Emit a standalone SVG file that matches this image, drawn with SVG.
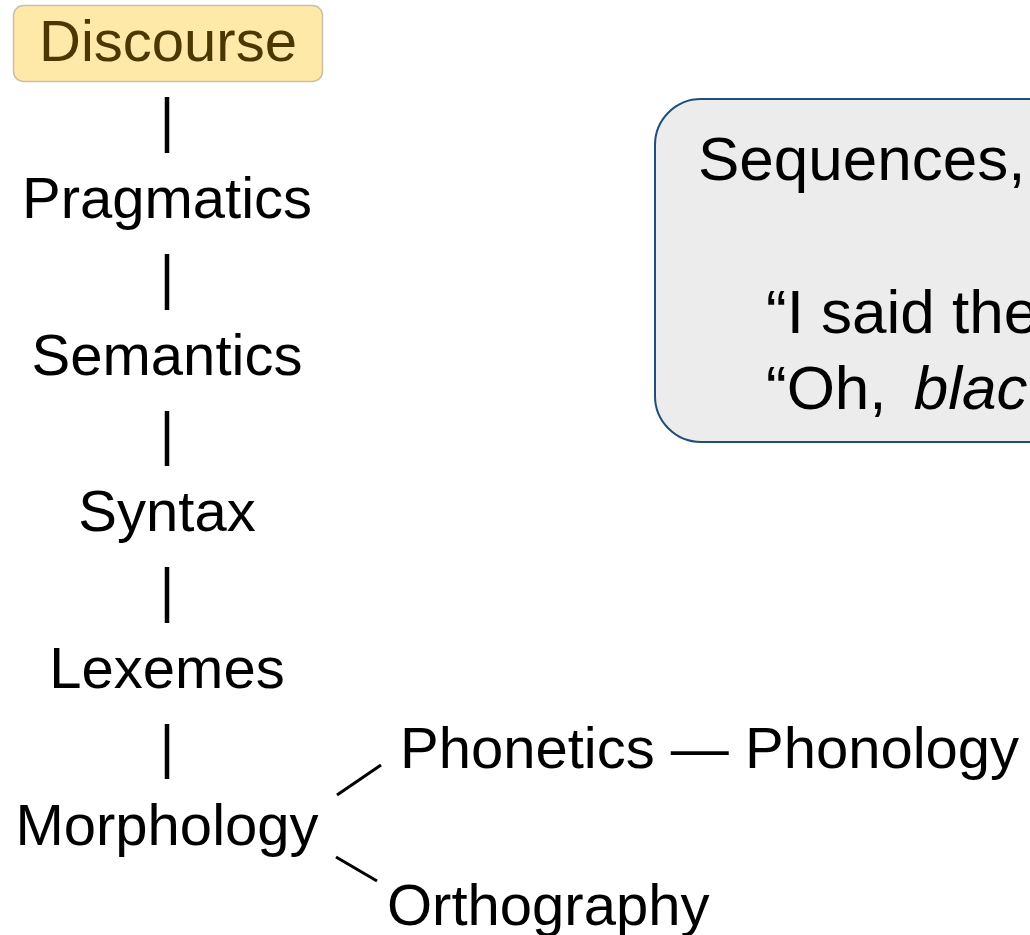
<svg xmlns="http://www.w3.org/2000/svg" width="1030" height="935" viewBox="0 0 1030 935">
  <style>
    .lbl { font-family: "Liberation Sans", Arial, sans-serif; font-size: 58px; fill: #000; }
    .big { font-size: 62px; }
    .mid { text-anchor: middle; }
    .bar { stroke: #000; stroke-width: 4.5; fill: none; }
    .diag { stroke: #000; stroke-width: 3; fill: none; }
  </style>
  <rect width="1030" height="935" fill="#fff"/>

  <!-- connectors between levels -->
  <g id="connectors">
    <line class="bar" x1="167" y1="97" x2="167" y2="153"/>
    <line class="bar" x1="167" y1="254" x2="167" y2="310"/>
    <line class="bar" x1="167" y1="411" x2="167" y2="466"/>
    <line class="bar" x1="167" y1="567" x2="167" y2="623"/>
    <line class="bar" x1="167" y1="724" x2="167" y2="779"/>
    <line class="diag" x1="337" y1="795" x2="381" y2="765"/>
    <line class="diag" x1="336" y1="857" x2="377" y2="881"/>
  </g>

  <g id="discourse">
    <rect x="13.5" y="5.5" width="309" height="76" rx="10" fill="#ffe9a8" stroke="#c8c0a8" stroke-width="1.5"/>
    <text class="lbl mid" x="168" y="61" style="fill:#4a3800">Discourse</text>
  </g>
  <g id="pragmatics"><text class="lbl mid" x="167" y="218">Pragmatics</text></g>
  <g id="semantics"><text class="lbl mid" x="167" y="375">Semantics</text></g>
  <g id="syntax"><text class="lbl mid" x="167" y="531">Syntax</text></g>
  <g id="lexemes"><text class="lbl mid" x="167" y="688">Lexemes</text></g>
  <g id="morphology"><text class="lbl mid" x="167" y="845">Morphology</text></g>
  <g id="phonetics"><text class="lbl" x="400" y="768">Phonetics — Phonology</text></g>
  <g id="orthography"><text class="lbl" x="387" y="925">Orthography</text></g>

  <g id="example">
    <rect x="655" y="99" width="460" height="343" rx="46" fill="#ececec" stroke="#1f4e79" stroke-width="2"/>
    <text class="lbl big" x="698" y="180">Sequences,</text>
    <text class="lbl big" x="766" y="333">“I said the</text>
    <text class="lbl big" x="766" y="409">“Oh, <tspan dx="10" font-style="italic">blac</tspan></text>
  </g>
</svg>
